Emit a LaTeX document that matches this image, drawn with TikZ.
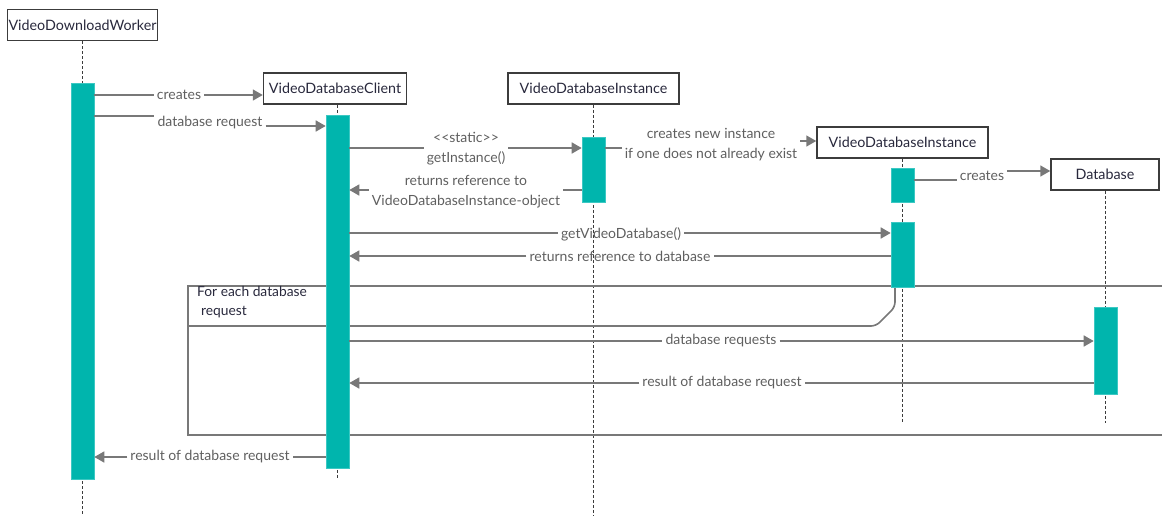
\documentclass[tikz,border=0pt]{standalone}
\usepackage{fontspec}
\setmainfont{Lato}
\usetikzlibrary{arrows.meta}
\definecolor{tealbar}{RGB}{0,181,173}
\definecolor{tealedge}{RGB}{60,200,195}
\definecolor{msgtext}{RGB}{95,95,95}
\definecolor{boxtext}{RGB}{40,40,60}
\definecolor{msgline}{RGB}{120,120,120}
\definecolor{lifeline}{RGB}{60,60,60}
\definecolor{boxline}{RGB}{60,60,60}
\begin{document}
\begin{tikzpicture}[x=1pt,y=-1pt,
  objbox/.style={draw=boxline, line width=1.5pt, fill=white, text=boxtext, inner sep=0pt,
    minimum height=31pt, font=\fontsize{14.3}{16}\selectfont},
  actbar/.style={fill=tealbar, draw=tealedge, line width=0.6pt, minimum width=23pt, inner sep=0pt},
  life/.style={draw=lifeline, line width=1.5pt, dash pattern=on 3pt off 2pt},
  msgl/.style={draw=msgline, line width=1.6pt},
  msga/.style={msgl, -{Triangle[length=10pt,width=11pt]}},
  lbl/.style={text=msgtext, inner sep=3pt, font=\fontsize{14}{20}\selectfont, align=center},
  framel/.style={draw=msgline, line width=1.6pt}
]
\useasboundingbox (0,0) rectangle (1162,515);

% object boxes
\node[objbox, minimum width=150pt] (w) at (82.5,25) {VideoDownloadWorker};
\node[objbox, minimum width=143pt] (c) at (335,88.5) {VideoDatabaseClient};
\node[objbox, minimum width=171pt] (i) at (593.5,88.5) {VideoDatabaseInstance};
\node[objbox, minimum width=171pt] (j) at (902.5,142.5) {VideoDatabaseInstance};
\node[objbox, minimum width=108pt] (d) at (1105,174.5) {Database};

% lifeline ends
\coordinate (wend) at (82.5,515);
\coordinate (cend) at (337.5,479);
\coordinate (iend) at (593.5,515);
\coordinate (jend) at (902.5,423);
\coordinate (dend) at (1105.5,423);

\draw[life] (w.south -| wend) -- (wend);
\draw[life] (c.south -| cend) -- (cend);
\draw[life] (i.south -| iend) -- (iend);
\draw[life] (j.south -| jend) -- (jend);
\draw[life] (d.south -| dend) -- (dend);

% loop frame
\draw[framel] (1175,286) -- (188,286) -- (188,435) -- (1175,435);
\draw[framel, rounded corners=5pt] (188,326) -- (876,326) -- (895,307) -- (895,287);
\node[anchor=north west, inner sep=0pt, text=boxtext, align=left,
  font=\fontsize{13.8}{19}\selectfont] (looplbl) at (197,286) {For each database\\\hspace*{4pt}request};

% activation bars
\node[actbar, minimum height=396pt] (wa) at (82.5,281) {};
\node[actbar, minimum height=353pt] (ca) at (337.5,291.5) {};
\node[actbar, minimum height=65pt] (ia) at (593.5,169.5) {};
\node[actbar, minimum height=34pt] (ja) at (902.5,185) {};
\node[actbar, minimum height=65pt] (jb) at (902.5,254.5) {};
\node[actbar, minimum height=87pt] (da) at (1105.5,350.5) {};

% creates
\node[lbl] (l1) at (179,95) {creates};
\draw[msgl] (wa.east |- 0,95) -- (l1.west);
\draw[msga] (l1.east) -- (c.west |- l1.east);

% database request
\node[lbl] (l2) at (210,123) {database request};
\draw[msgl] (wa.east |- 0,116) -- (l2.west |- 0,116);
\draw[msga] (l2.east |- 0,126) -- (ca.west |- 0,126);

% getInstance
\node[lbl] (l3) at (466,149) {<{}<static>{}>\\getInstance()};
\draw[msgl] (ca.east |- 0,148) -- (l3.west |- 0,148);
\draw[msga] (l3.east |- 0,148) -- (ia.west |- 0,148);

% returns reference to object
\node[lbl] (l4) at (466,192) {returns reference to\\VideoDatabaseInstance-object};
\draw[msgl] (ia.west |- 0,190) -- (l4.east |- 0,190);
\draw[msga] (l4.west |- 0,190) -- (ca.east |- 0,190);

% creates new instance
\node[lbl] (l5) at (711,145) {creates new instance\\if one does not already exist};
\draw[msgl] (ia.east |- 0,148) -- (l5.west |- 0,148);
\draw[msga] (l5.east |- 0,141) -- (j.west |- 0,141);

% creates database
\node[lbl] (l6) at (982,176) {creates};
\draw[msgl] (ja.east |- 0,180) -- (l6.west |- 0,180);
\draw[msga] (l6.east |- 0,171) -- (d.west |- 0,171);

% getVideoDatabase
\node[lbl] (l7) at (621,234) {getVideoDatabase()};
\draw[msgl] (ca.east |- 0,233) -- (l7.west |- 0,233);
\draw[msga] (l7.east |- 0,233) -- (jb.west |- 0,233);

% returns reference to database
\node[lbl] (l8) at (620,256) {returns reference to database};
\draw[msgl] (jb.west |- 0,256) -- (l8.east |- 0,256);
\draw[msga] (l8.west |- 0,256) -- (ca.east |- 0,256);

% database requests
\node[lbl] (l9) at (721,341) {database requests};
\draw[msgl] (ca.east |- 0,341) -- (l9.west |- 0,341);
\draw[msga] (l9.east |- 0,341) -- (da.west |- 0,341);

% result of database request (in loop)
\node[lbl] (l10) at (722,383) {result of database request};
\draw[msgl] (da.west |- 0,383) -- (l10.east |- 0,383);
\draw[msga] (l10.west |- 0,383) -- (ca.east |- 0,383);

% final result
\node[lbl] (l11) at (210,457) {result of database request};
\draw[msgl] (ca.west |- 0,457) -- (l11.east |- 0,457);
\draw[msga] (l11.west |- 0,457) -- (wa.east |- 0,457);
\end{tikzpicture}
\end{document}
